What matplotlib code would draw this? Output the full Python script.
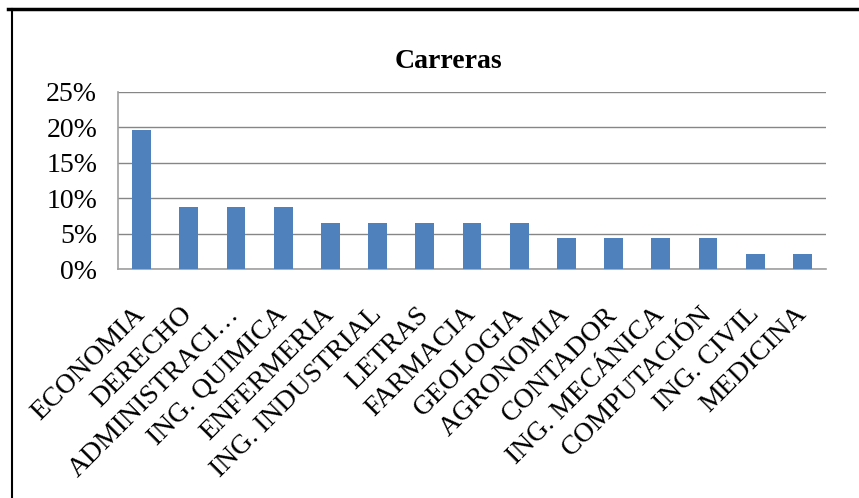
import matplotlib.pyplot as plt
from matplotlib.ticker import PercentFormatter
from matplotlib.lines import Line2D

plt.rcParams['font.family'] = ['Liberation Serif', 'DejaVu Serif']

# datos
carreras = ['ECONOMIA', 'DERECHO', 'ADMINISTRACI…', 'ING. QUIMICA', 'ENFERMERIA',
            'ING. INDUSTRIAL', 'LETRAS', 'FARMACIA', 'GEOLOGIA', 'AGRONOMIA',
            'CONTADOR', 'ING. MECÁNICA', 'COMPUTACIÓN', 'ING. CIVIL', 'MEDICINA']
porcentaje = [19.57, 8.70, 8.70, 8.70, 6.52, 6.52, 6.52, 6.52, 6.52,
              4.35, 4.35, 4.35, 4.35, 2.17, 2.17]
yticks = [0, 5, 10, 15, 20, 25]

fig = plt.figure(figsize=(8.59, 4.98), dpi=100)
ax = fig.add_axes([0.1374, 0.4598, 0.8242, 0.3555])

x = range(len(carreras))
ax.bar(x, porcentaje, width=0.4, color='#4F81BD', zorder=3)

ax.set_xlim(-0.5, len(carreras) - 0.5)
ax.set_ylim(0, 25)
ax.set_yticks(yticks)
ax.yaxis.set_major_formatter(PercentFormatter(decimals=0))
ax.set_xticks(list(x))
ax.set_xticklabels(carreras, rotation=45, ha='right', va='center',
                   rotation_mode='anchor', fontsize=20)
ax.tick_params(axis='y', labelsize=20, length=0, pad=15)
ax.tick_params(axis='x', length=0, pad=30)

ax.grid(axis='y', color='#868686', linewidth=1, zorder=0)
for s in ['top', 'right']:
    ax.spines[s].set_visible(False)
for s in ['left', 'bottom']:
    ax.spines[s].set_color('#a0a0a0')
    ax.spines[s].set_linewidth(1.2)

fig.text(448 / 859, 1 - 62 / 498, 'Carreras', fontsize=20, fontweight='bold',
         ha='center', va='center')

# marco
fig.add_artist(Line2D([8 / 859, 1], [1 - 9 / 498, 1 - 9 / 498],
                      color='black', linewidth=2.5, transform=fig.transFigure))
fig.add_artist(Line2D([12 / 859, 12 / 859], [0, 1 - 9 / 498],
                      color='black', linewidth=1.5, transform=fig.transFigure))

plt.savefig('out.png', dpi=100)
